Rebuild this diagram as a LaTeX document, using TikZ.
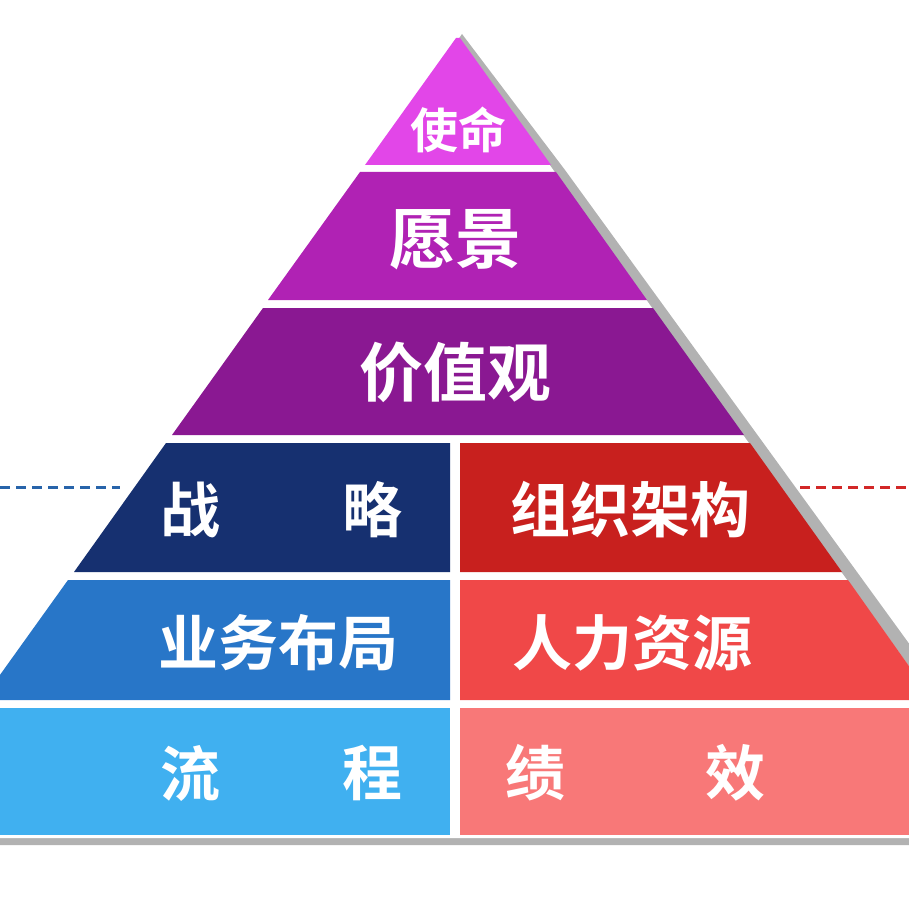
\documentclass[tikz,border=0pt]{standalone}
\usepackage{fontspec}
\newfontfamily\cjk{Noto Sans CJK SC Bold}
\begin{document}
\begin{tikzpicture}[x=1pt,y=-1pt,
  lbl/.style={text=white,font=\cjk\fontsize{60}{64}\selectfont,inner sep=0pt},
  shd/.style={fill=black!30},
  dl/.style={line width=3pt,dash pattern=on 10pt off 6pt}]
\useasboundingbox (0,0) rectangle (909,909);
\clip (0,0) rectangle (909,909);
% shadows
\fill[shd] (462,34) -- (565,170) -- (950,700) -- (950,845) -- (0,845) -- (0,700) -- cycle;
\fill[white] (458,37) -- (933,700) -- (933,838) -- (-20,838) -- (-20,700) -- cycle;
% layers
\fill[fill={rgb,255:red,226;green,70;blue,232}] (456,38) -- (460,38) -- (551,165) -- (365,165) -- cycle;
\fill[fill={rgb,255:red,176;green,34;blue,180}] (360,172) -- (556,172) -- (647,300) -- (268,300) -- cycle;
\fill[fill={rgb,255:red,138;green,24;blue,146}] (263,308) -- (653,308) -- (744,435) -- (172,435) -- cycle;
\fill[fill={rgb,255:red,22;green,48;blue,112}] (166,443) -- (450,443) -- (450,572) -- (74,572) -- cycle;
\fill[fill={rgb,255:red,200;green,32;blue,30}] (460,443) -- (750,443) -- (842,572) -- (460,572) -- cycle;
\fill[fill={rgb,255:red,40;green,118;blue,200}] (68,580) -- (450,580) -- (450,700) -- (-18,700) -- cycle;
\fill[fill={rgb,255:red,240;green,72;blue,72}] (460,580) -- (848,580) -- (933,700) -- (460,700) -- cycle;
\fill[fill={rgb,255:red,64;green,176;blue,240}] (-10,708) rectangle (450,835);
\fill[fill={rgb,255:red,248;green,120;blue,120}] (460,708) rectangle (920,835);
% dashed lines
\coordinate (d1) at (0,487); \coordinate (d2) at (120,487);
\coordinate (d3) at (800,487); \coordinate (d4) at (909,487);
\draw[dl,color={rgb,255:red,40;green,100;blue,170}] (d1) -- (d2);
\draw[dl,color={rgb,255:red,210;green,40;blue,40}] (d3) -- (d4);
% texts
\node[lbl,font=\cjk\fontsize{48}{52}\selectfont] (t1) at (458,130) {使命};
\node[lbl,font=\cjk\fontsize{66}{70}\selectfont] (t2) at (455,240) {愿景};
\node[lbl,font=\cjk\fontsize{64}{68}\selectfont] (t3) at (455,372) {价值观};
\node[lbl] (t4a) at (190,510) {战};
\node[lbl] (t4b) at (372,510) {略};
\node[lbl] (t5) at (630,510) {组织架构};
\node[lbl] (t6) at (278,643) {业务布局};
\node[lbl] (t7) at (632,643) {人力资源};
\node[lbl] (t8a) at (190,773) {流};
\node[lbl] (t8b) at (372,773) {程};
\node[lbl] (t9a) at (535,773) {绩};
\node[lbl] (t9b) at (735,773) {效};
\end{tikzpicture}
\end{document}
